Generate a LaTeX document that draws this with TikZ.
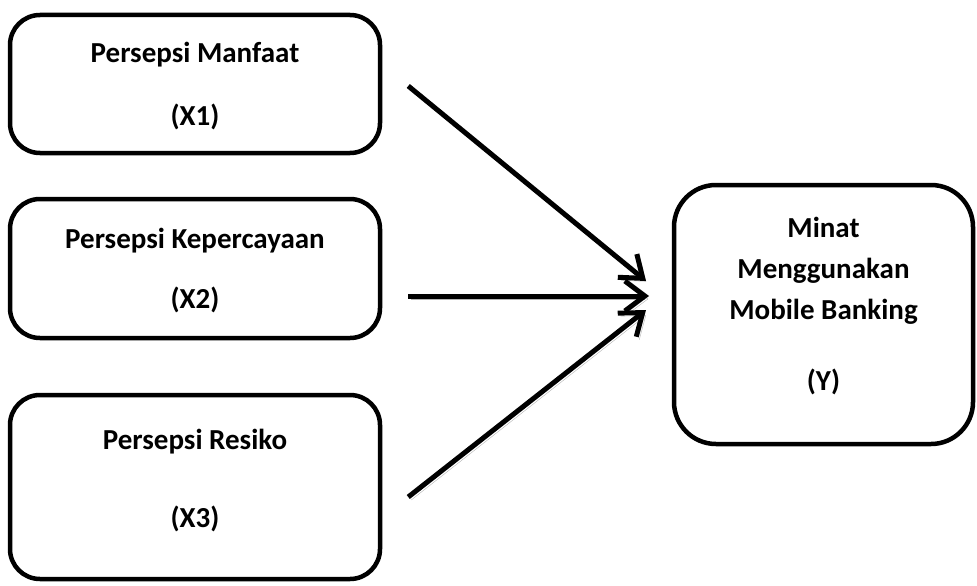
\documentclass[tikz,border=0pt]{standalone}
\usepackage{fontspec}
\setmainfont{Carlito}
\usetikzlibrary{arrows.meta}

\begin{document}
\begin{tikzpicture}[x=1pt, y=-1pt,
      varbox/.style={draw=black, line width=4.5pt, rounded corners=30pt, minimum width=370pt, inner sep=0pt, align=center, font=\fontsize{29}{35}\selectfont\bfseries},
      depbox/.style={draw=black, line width=4.5pt, rounded corners=42pt, minimum width=299pt, minimum height=259pt, inner sep=0pt, text depth=22pt, align=center, font=\fontsize{29}{41}\selectfont\bfseries},
      link/.style={line width=5pt, -{Straight Barb[length=20pt,width=30pt]}, preaction={draw=gray!60, transform canvas={shift={(3pt,-3pt)}}}}]

      \useasboundingbox (0,0) rectangle (977,586);

      % --- Independent variables ---
      \node[varbox, minimum height=138pt, text depth=-2pt] (x1) at (195,84) {Persepsi Manfaat\\[28pt](X1)};
      \node[varbox, minimum height=139pt, text depth=-14pt] (x2) at (195,268.5) {Persepsi Kepercayaan\\[25pt](X2)};
      \node[varbox, minimum height=184pt, text depth=18pt] (x3) at (195,487) {Persepsi Resiko\\[43pt](X3)};

      % --- Dependent variable ---
      \node[depbox] (y) at (823.5,314.5) {Minat\\Menggunakan\\Mobile Banking\\[30pt](Y)};

      % Arrow tips
      \coordinate (t1) at (646,281);
      \coordinate (t2) at (649,296);
      \coordinate (t3) at (646,310);

      % --- Arrows ---
      \draw[link] ([xshift=26pt, yshift=-2pt]x1.east) -- (t1);
      \draw[link] ([xshift=26pt, yshift=-27.5pt]x2.east) -- (t2);
      \draw[link] ([xshift=26pt, yshift=-10pt]x3.east) -- (t3);

\end{tikzpicture}
\end{document}
